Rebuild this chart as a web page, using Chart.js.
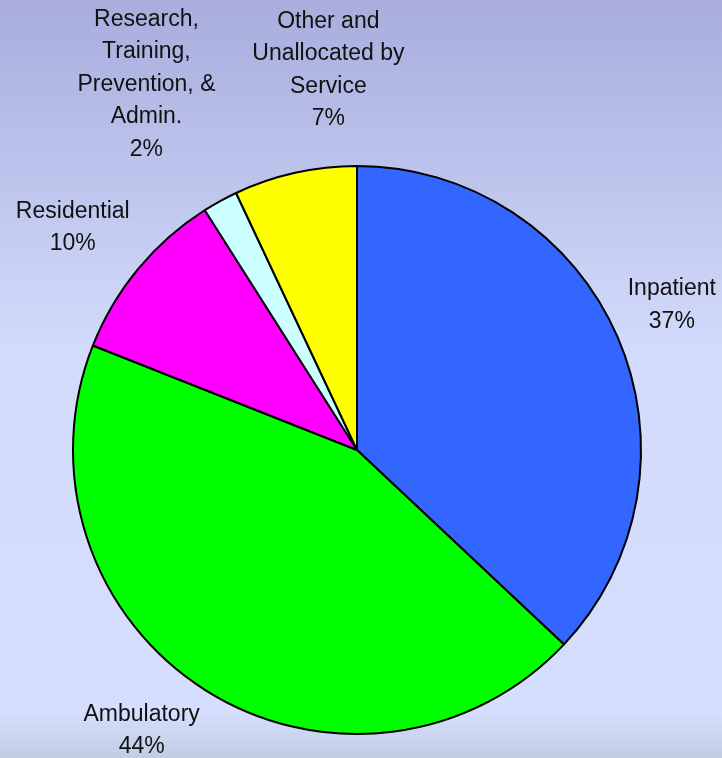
<!DOCTYPE html>
<html>
<head>
<meta charset="utf-8">
<script src="https://cdn.jsdelivr.net/npm/chart.js@4.4.1/dist/chart.umd.min.js"></script>
<style>
  html, body { margin: 0; padding: 0; }
  #wrap { width: 722px; height: 758px; }
</style>
</head>
<body>
<div id="wrap"><canvas id="myChart1" width="722" height="758"></canvas></div>
<script>
const categories = [
  'Inpatient',
  'Ambulatory',
  'Residential',
  'Research,\nTraining,\nPrevention, &\nAdmin.',
  'Other and\nUnallocated by\nService'
];
const shares = [37, 44, 10, 2, 7];
const sliceColors = ['#3366FF', '#00FF00', '#FF00FF', '#CCFFFF', '#FFFF00'];

// label placement: gap past the rim, then a small hand nudge per slice
const labelGap = 28;
const labelNudge = [[-12, -8], [-17, -10], [0, -3], [-27, -21], [56, -12]];

const backdrop = {
  id: 'backdrop',
  beforeDraw(chart) {
    const c = chart.ctx;
    const h = chart.height;
    const g = c.createLinearGradient(0, 0, 0, h);
    g.addColorStop(0, '#A8ADDD');
    g.addColorStop(0.46, '#D2DBFB');
    g.addColorStop(0.94, '#D5DEFD');
    g.addColorStop(1, '#C1CDE3');
    c.save();
    c.fillStyle = g;
    c.fillRect(0, 0, chart.width, h);
    c.restore();
  }
};

const sliceLabels = {
  id: 'sliceLabels',
  afterDatasetsDraw(chart) {
    const c = chart.ctx;
    const meta = chart.getDatasetMeta(0);
    const lineH = 32.5;
    c.save();
    c.font = '23px "Liberation Sans", Arial, sans-serif';
    c.fillStyle = '#111';
    c.textAlign = 'center';
    c.textBaseline = 'middle';
    meta.data.forEach((arc, i) => {
      const p = arc.getProps(['x', 'y', 'startAngle', 'endAngle', 'outerRadius'], true);
      const mid = (p.startAngle + p.endAngle) / 2;
      const dx = Math.cos(mid), dy = Math.sin(mid);
      const lines = categories[i].split('\n').concat([shares[i] + '%']);
      const w = Math.max(...lines.map(t => c.measureText(t).width));
      const h = lines.length * lineH;
      const px = p.x + dx * (p.outerRadius + labelGap);
      const py = p.y + dy * (p.outerRadius + labelGap);
      const cx = px + dx * w / 2 + labelNudge[i][0];
      const cy = py + dy * h / 2 + labelNudge[i][1];
      lines.forEach((t, k) => {
        c.fillText(t, cx, cy - h / 2 + lineH * (k + 0.5));
      });
    });
    c.restore();
  }
};

const ctx = document.getElementById('myChart1');

new Chart(ctx, {
  type: 'pie',
  data: {
    labels: categories,
    datasets: [{
      data: shares,
      backgroundColor: sliceColors,
      borderColor: '#000',
      borderWidth: 2
    }]
  },
  options: {
    responsive: false,
    animation: false,
    layout: {
      padding: { left: 72, right: 80, top: 165, bottom: 23 }
    },
    plugins: {
      legend: { display: false },
      tooltip: { enabled: false }
    }
  },
  plugins: [backdrop, sliceLabels]
});
</script>
</body>
</html>
